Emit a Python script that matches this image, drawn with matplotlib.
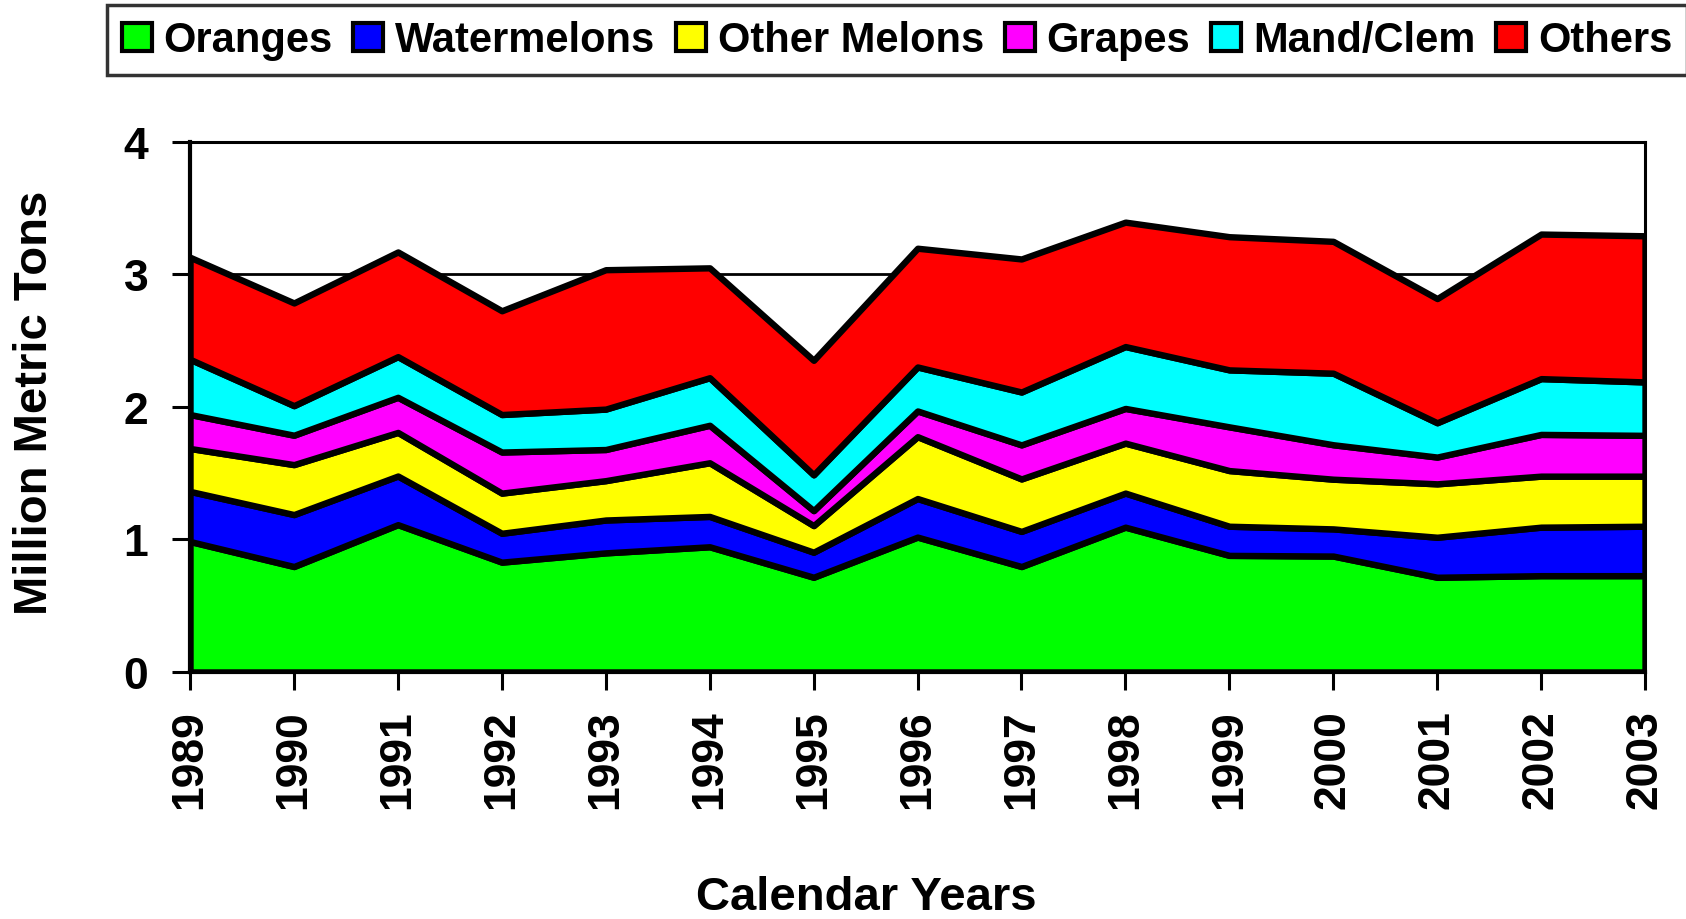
import numpy as np
import matplotlib
matplotlib.use("Agg")
import matplotlib.pyplot as plt

# values (million metric tons)
years = list(range(1989, 2004))
oranges = [0.985, 0.796, 1.112, 0.829, 0.899, 0.945, 0.715, 1.018, 0.796, 1.093, 0.880, 0.875, 0.715, 0.727, 0.727]
watermelons = [0.378, 0.392, 0.367, 0.218, 0.248, 0.229, 0.189, 0.291, 0.265, 0.257, 0.220, 0.205, 0.302, 0.366, 0.373]
other_melons = [0.324, 0.377, 0.329, 0.303, 0.297, 0.405, 0.201, 0.467, 0.396, 0.377, 0.420, 0.375, 0.403, 0.385, 0.378]
grapes = [0.256, 0.222, 0.265, 0.310, 0.235, 0.283, 0.113, 0.194, 0.257, 0.262, 0.330, 0.260, 0.202, 0.315, 0.308]
mand_clem = [0.417, 0.223, 0.307, 0.283, 0.305, 0.359, 0.270, 0.332, 0.399, 0.467, 0.430, 0.540, 0.259, 0.421, 0.403]
others = [0.770, 0.775, 0.790, 0.783, 1.052, 0.829, 0.864, 0.896, 1.004, 0.939, 1.005, 0.995, 0.937, 1.091, 1.103]

labels = ["Oranges", "Watermelons", "Other Melons", "Grapes", "Mand/Clem", "Others"]
colors = ["#00FF00", "#0000FF", "#FFFF00", "#FF00FF", "#00FFFF", "#FF0000"]

plt.rcParams["font.family"] = ["Liberation Sans", "DejaVu Sans"]
plt.rcParams["font.weight"] = "bold"

fig = plt.figure(figsize=(16.86, 9.2), dpi=100)
ax = fig.add_axes([0.1127, 0.2685, 0.8630, 0.5761])

polys = ax.stackplot(years, oranges, watermelons, other_melons, grapes, mand_clem, others,
                     colors=colors, labels=labels, edgecolor="black", linewidth=4.6)

ax.set_xlim(1989, 2003)
ax.set_ylim(0, 4)
ax.set_yticks([0, 1, 2, 3, 4])
ax.set_xticks(years)
ax.set_xticklabels([str(y) for y in years], rotation=90)
ax.tick_params(axis="both", labelsize=32, direction="out", length=13, width=2.2, color="black")
ax.tick_params(axis="x", pad=14)
ax.tick_params(axis="y", pad=17)
for lab in ax.get_xticklabels() + ax.get_yticklabels():
    lab.set_fontweight("bold")

ax.set_axisbelow(True)
ax.yaxis.grid(True, color="black", linewidth=2)
for s in ax.spines.values():
    s.set_linewidth(2.2)
    s.set_color("black")
ax.spines["bottom"].set_linewidth(3)
ax.spines["left"].set_linewidth(3)

fig.text(0.021, 0.562, "Million Metric Tons", rotation=90, ha="center", va="center",
         fontsize=34, fontweight="bold")
fig.text(0.514, 0.024, "Calendar Years", ha="center", va="center",
         fontsize=34, fontweight="bold")

leg = fig.legend(loc="upper center", bbox_to_anchor=(0.532, 0.993), ncol=6,
                 fontsize=30, frameon=True, fancybox=False, edgecolor="black",
                 handlelength=0.72, handleheight=0.67, handletextpad=0.28,
                 columnspacing=0.5, borderpad=0.36, borderaxespad=0)
leg.get_frame().set_linewidth(2.5)
for h in leg.legend_handles:
    h.set_linewidth(3)
for t in leg.get_texts():
    t.set_fontweight("bold")

fig.savefig("out.png", dpi=100, facecolor="white")
